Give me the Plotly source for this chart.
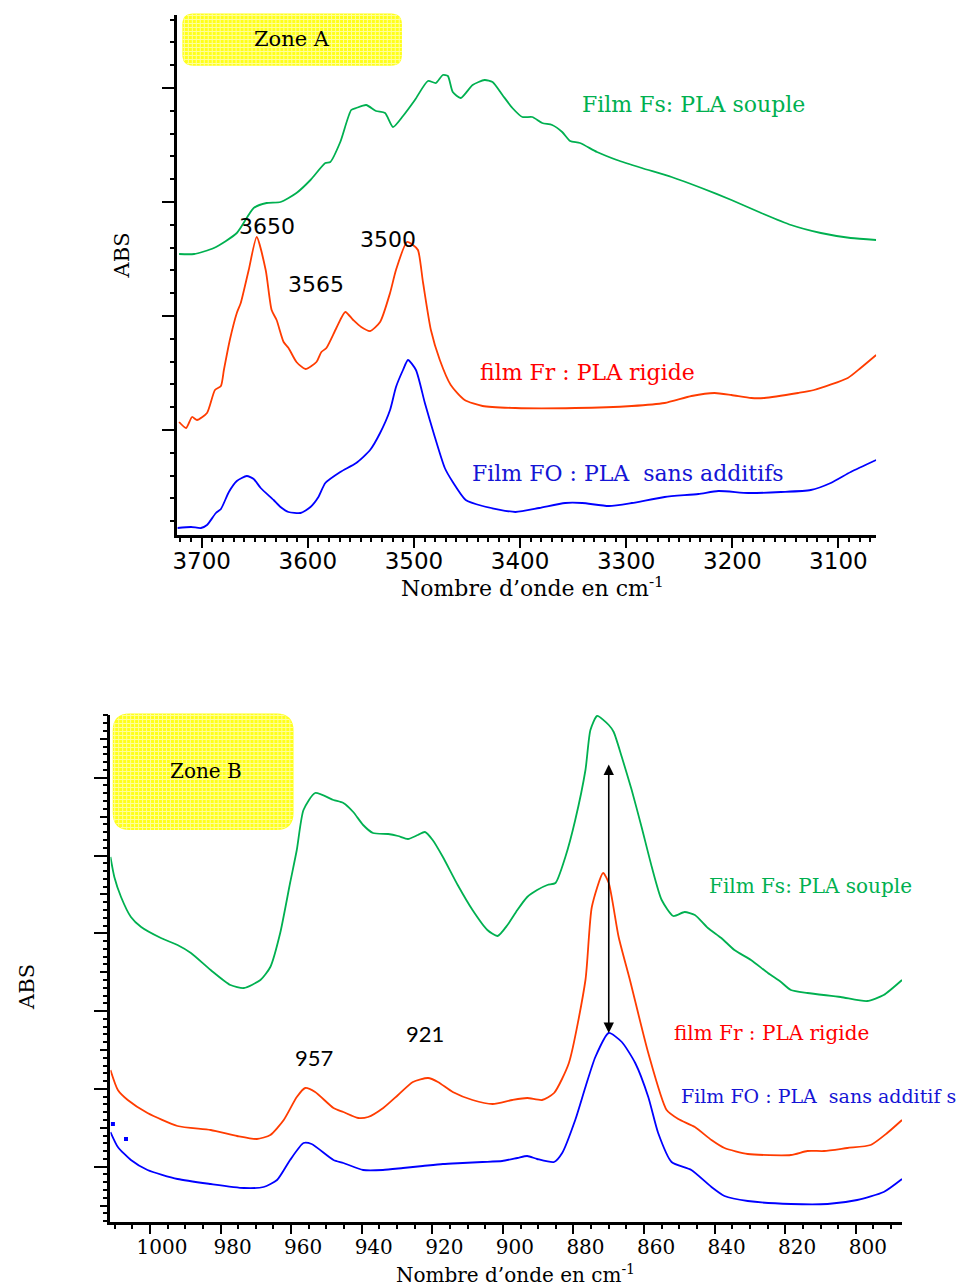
import math
import plotly.graph_objects as go

# ---------------- Zone A data (wavenumber cm-1, absorbance a.u.) ----------------
a_fs_x = [3721.3, 3707.2, 3688.5, 3666.9, 3651.0, 3638.8, 3625.7, 3610.7, 3597.5, 3583.5,
          3578.8, 3569.4, 3559.1, 3554.4, 3545.0, 3535.7, 3527.2, 3519.7, 3510.3, 3499.1,
          3486.8, 3479.3, 3472.8, 3468.0, 3463.4, 3455.9, 3444.7, 3433.4, 3425.9, 3416.6,
          3407.2, 3397.8, 3388.5, 3379.1, 3369.7, 3360.3, 3352.8, 3343.5, 3327.5, 3308.7,
          3285.3, 3257.2, 3229.0, 3200.8, 3172.7, 3144.6, 3116.5, 3088.4, 3064.4]
a_fs_y = [2.81, 2.81, 2.87, 3.02, 3.27, 3.32, 3.33, 3.42, 3.55, 3.72,
          3.73, 3.93, 4.25, 4.27, 4.30, 4.24, 4.22, 4.08, 4.19, 4.35,
          4.54, 4.52, 4.60, 4.59, 4.43, 4.37, 4.50, 4.55, 4.53, 4.40,
          4.27, 4.18, 4.18, 4.12, 4.10, 4.03, 3.94, 3.92, 3.83, 3.75,
          3.67, 3.58, 3.47, 3.35, 3.22, 3.10, 3.02, 2.97, 2.95]

a_fr_x = [3721.3, 3714.7, 3709.1, 3704.4, 3695.0, 3687.5, 3681.9, 3679.1, 3673.5, 3666.9,
          3663.2, 3655.7, 3648.2, 3639.7, 3634.1, 3629.4, 3622.8, 3618.2, 3610.7, 3602.2,
          3591.9, 3587.2, 3582.5, 3573.1, 3564.7, 3557.2, 3549.7, 3541.3, 3531.9, 3522.5,
          3516.9, 3506.6, 3500.9, 3496.2, 3491.5, 3484.0, 3475.6, 3465.3, 3452.2, 3435.3,
          3404.4, 3348.1, 3294.7, 3263.7, 3238.4, 3216.8, 3200.8, 3182.1, 3169.9, 3138.0,
          3123.0, 3091.1, 3079.0, 3064.4]
a_fr_y = [1.13, 1.07, 1.18, 1.15, 1.22, 1.45, 1.49, 1.65, 1.95, 2.22,
          2.32, 2.65, 2.98, 2.65, 2.25, 2.15, 1.93, 1.87, 1.73, 1.66,
          1.73, 1.83, 1.87, 2.07, 2.23, 2.15, 2.08, 2.04, 2.13, 2.42,
          2.65, 2.93, 2.90, 2.85, 2.53, 2.05, 1.75, 1.50, 1.35, 1.29,
          1.27, 1.27, 1.29, 1.32, 1.39, 1.42, 1.40, 1.37, 1.37, 1.42,
          1.45, 1.57, 1.67, 1.80]

a_f0_x = [3722.9, 3710.0, 3700.7, 3695.0, 3686.6, 3681.9, 3674.4, 3666.9, 3657.5, 3651.0,
          3644.4, 3632.2, 3625.7, 3618.2, 3606.9, 3597.5, 3590.0, 3583.5, 3569.4, 3554.4,
          3541.3, 3531.9, 3522.5, 3516.9, 3510.3, 3505.6, 3498.1, 3489.7, 3480.3, 3470.9,
          3463.4, 3451.2, 3435.3, 3404.4, 3381.9, 3357.5, 3341.5, 3316.2, 3294.7, 3263.7,
          3231.9, 3213.1, 3185.0, 3154.1, 3126.0, 3107.2, 3088.4, 3064.4]
a_f0_y = [0.07, 0.08, 0.07, 0.10, 0.22, 0.26, 0.43, 0.54, 0.59, 0.56,
          0.47, 0.35, 0.28, 0.23, 0.22, 0.28, 0.38, 0.52, 0.63, 0.72,
          0.85, 1.02, 1.25, 1.48, 1.65, 1.75, 1.65, 1.32, 0.98, 0.67,
          0.53, 0.35, 0.29, 0.23, 0.27, 0.32, 0.32, 0.29, 0.32, 0.38,
          0.41, 0.44, 0.42, 0.43, 0.45, 0.52, 0.63, 0.75]

# ---------------- Zone B data ----------------
b_fs_x = [1011.2, 1010.1, 1008.2, 1005.4, 1002.5, 996.9, 992.2, 988.4, 982.8, 977.2,
          973.4, 968.7, 965.9, 963.1, 960.3, 958.4, 956.5, 953.2, 948.0, 945.2,
          942.4, 939.6, 936.8, 932.5, 929.7, 926.9, 924.1, 922.1, 919.9, 917.0,
          912.8, 908.6, 904.4, 901.5, 898.7, 895.9, 893.1, 890.3, 887.4, 885.1,
          882.3, 879.5, 876.6, 875.2, 873.3, 870.0, 868.6, 866.3, 863.5, 860.7,
          857.8, 855.0, 851.7, 848.5, 845.6, 841.9, 838.1, 834.4, 829.7, 824.9,
          821.2, 818.4, 813.7, 804.3, 796.8, 792.1, 786.9]
b_fs_y = [3.65, 3.45, 3.25, 3.05, 2.95, 2.84, 2.77, 2.69, 2.52, 2.37,
          2.34, 2.42, 2.55, 2.89, 3.39, 3.72, 4.12, 4.29, 4.22, 4.19,
          4.10, 3.97, 3.89, 3.88, 3.86, 3.83, 3.87, 3.90, 3.82, 3.65,
          3.37, 3.12, 2.92, 2.86, 2.97, 3.12, 3.25, 3.32, 3.37, 3.39,
          3.65, 4.02, 4.52, 4.92, 5.06, 4.97, 4.90, 4.65, 4.32, 3.95,
          3.55, 3.22, 3.06, 3.10, 3.07, 2.94, 2.84, 2.72, 2.62, 2.49,
          2.40, 2.32, 2.29, 2.25, 2.21, 2.27, 2.42]

b_fr_x = [1011.2, 1009.1, 1006.3, 1000.7, 992.2, 982.8, 975.3, 969.7, 965.9, 962.1,
          958.4, 956.0, 953.2, 948.0, 945.2, 941.0, 938.2, 933.9, 929.7, 925.5,
          921.2, 918.4, 914.2, 908.6, 902.9, 897.3, 893.1, 888.9, 885.5, 881.3,
          876.6, 874.8, 871.6, 870.0, 867.2, 864.0, 858.8, 853.6, 850.3, 845.6,
          840.9, 837.2, 830.6, 818.4, 813.7, 809.0, 802.4, 795.8, 791.1, 786.9]
b_fr_y = [1.52, 1.32, 1.22, 1.09, 0.96, 0.92, 0.86, 0.83, 0.87, 1.02,
          1.25, 1.34, 1.30, 1.14, 1.10, 1.04, 1.05, 1.14, 1.27, 1.40,
          1.44, 1.40, 1.30, 1.22, 1.18, 1.22, 1.24, 1.22, 1.29, 1.59,
          2.42, 3.15, 3.49, 3.39, 2.85, 2.42, 1.69, 1.12, 1.03, 0.95,
          0.82, 0.74, 0.68, 0.67, 0.71, 0.71, 0.74, 0.77, 0.89, 1.02]

b_f0_x = [1011.2, 1009.1, 1005.4, 1000.7, 992.2, 982.8, 973.4, 967.8, 964.0, 960.3,
          956.5, 954.2, 948.0, 945.2, 939.6, 934.0, 928.3, 922.7, 917.0, 911.4,
          905.8, 900.2, 895.9, 893.1, 890.3, 885.5, 883.2, 879.5, 876.6, 873.8,
          870.0, 866.3, 862.5, 858.8, 856.0, 852.2, 846.6, 840.9, 837.2, 830.6,
          818.4, 808.0, 799.6, 792.1, 786.9]
b_f0_y = [0.90, 0.75, 0.62, 0.52, 0.43, 0.38, 0.34, 0.35, 0.42, 0.62,
          0.79, 0.78, 0.62, 0.59, 0.52, 0.52, 0.54, 0.56, 0.58, 0.59,
          0.60, 0.61, 0.64, 0.66, 0.63, 0.60, 0.69, 1.02, 1.35, 1.65,
          1.89, 1.80, 1.59, 1.25, 0.89, 0.60, 0.52, 0.35, 0.26, 0.21,
          0.18, 0.18, 0.22, 0.30, 0.43]

# stray blue dots at the left of zone B
b_dots_x = [1012.4, 1010.5, 1006.8]
b_dots_y = [1.09, 0.98, 0.83]

# arrow between F0 and Fs at 870 cm-1
arrow_x = 870.0
arrow_y = [1.89, 4.59]

# peak labels
a_peaks = ["3650", "3565", "3500"]
a_peak_x = [3638.6, 3591.9, 3524.4]
a_peak_y = [3.09, 2.51, 2.96]
b_peaks = ["870", "957", "921"]
b_peak_x = [871.6, 953.4, 922.1]
b_peak_y = [5.21, 1.65, 1.89]

W, H = 964, 1286
def PX(x):
    return x / W
def PY(y):
    return 1 - y / H

GREEN = "#00B050"
RED_LINE = "#FF3C00"
RED_TXT = "#FF0000"
BLUE_LINE = "#0000FF"
BLUE_TXT = "#1515D5"

fig = go.Figure()
lw = 1.8
def line(color):
    return dict(color=color, width=lw, shape="spline", smoothing=0.6)

fig.add_trace(go.Scatter(x=a_fs_x, y=a_fs_y, mode="lines", line=line(GREEN), xaxis="x", yaxis="y"))
fig.add_trace(go.Scatter(x=a_fr_x, y=a_fr_y, mode="lines", line=line(RED_LINE), xaxis="x", yaxis="y"))
fig.add_trace(go.Scatter(x=a_f0_x, y=a_f0_y, mode="lines", line=line(BLUE_LINE), xaxis="x", yaxis="y"))
fig.add_trace(go.Scatter(x=b_fs_x, y=b_fs_y, mode="lines", line=line(GREEN), xaxis="x2", yaxis="y2"))
fig.add_trace(go.Scatter(x=b_fr_x, y=b_fr_y, mode="lines", line=line(RED_LINE), xaxis="x2", yaxis="y2"))
fig.add_trace(go.Scatter(x=b_f0_x, y=b_f0_y, mode="lines", line=line(BLUE_LINE), xaxis="x2", yaxis="y2"))
fig.add_trace(go.Scatter(x=b_dots_x, y=b_dots_y, mode="markers", cliponaxis=False,
                         marker=dict(symbol="square", size=4, color=BLUE_LINE), xaxis="x2", yaxis="y2"))
fig.add_trace(go.Scatter(x=[None], y=[None], mode="lines", xaxis="x2", yaxis="y3", hoverinfo="skip"))

axis_common = dict(showline=True, linecolor="black", linewidth=2.5, showgrid=False, zeroline=False,
                   ticks="outside", tickcolor="black", tickwidth=2)

fig.update_layout(
    width=W, height=H, margin=dict(l=0, r=0, t=0, b=0),
    paper_bgcolor="white", plot_bgcolor="white", showlegend=False,
    xaxis=dict(domain=[PX(173.3), PX(875.7)], range=[3722.9, 3064.4], anchor="y",
               tickmode="linear", tick0=3000, dtick=100, ticklen=10, ticklabelstandoff=-6,
               tickfont=dict(family="DejaVu Sans", size=23, color="black"),
               minor=dict(ticks="outside", dtick=10, ticklen=4, tickwidth=1.5, tickcolor="black"),
               **axis_common),
    yaxis=dict(domain=[PY(535), PY(15)], range=[0, 5.20], anchor="x",
               tickmode="linear", tick0=1.05, dtick=1.14, ticklen=13, showticklabels=False,
               minor=dict(ticks="outside", tick0=1.05, dtick=0.228, ticklen=5, tickwidth=1.5, tickcolor="black"),
               **axis_common),
    xaxis2=dict(domain=[PX(106), PX(901.7)], range=[1011.2, 786.9], anchor="y2",
                tickmode="linear", tick0=1000, dtick=20, ticklen=9, ticklabelshift=-12,
                ticklabelstandoff=-4,
                tickfont=dict(family="DejaVu Serif", size=20, color="black"),
                minor=dict(ticks="outside", dtick=5, ticklen=4, tickwidth=1.5, tickcolor="black"),
                **axis_common),
    yaxis2=dict(domain=[PY(1222), PY(715)], range=[0, 5.07], anchor="x2",
                tickmode="linear", tick0=0.553, dtick=0.778, ticklen=14, showticklabels=False,
                minor=dict(ticks="outside", tick0=0.553, dtick=0.0778, ticklen=4.5, tickwidth=1.5, tickcolor="black"),
                **axis_common),
    yaxis3=dict(overlaying="y2", anchor="x2", side="left", range=[0, 5.07], showline=False,
                showgrid=False, zeroline=False, ticks="outside", tickmode="linear", tick0=0.164, dtick=0.778,
                ticklen=9, tickwidth=2, tickcolor="black", showticklabels=False),
)

# ---------------- yellow "Zone" boxes ----------------
def rrect_path(x0, y0, x1, y1, r):
    return (f"M {PX(x0+r)},{PY(y0)} L {PX(x1-r)},{PY(y0)} Q {PX(x1)},{PY(y0)} {PX(x1)},{PY(y0+r)} "
            f"L {PX(x1)},{PY(y1-r)} Q {PX(x1)},{PY(y1)} {PX(x1-r)},{PY(y1)} "
            f"L {PX(x0+r)},{PY(y1)} Q {PX(x0)},{PY(y1)} {PX(x0)},{PY(y1-r)} "
            f"L {PX(x0)},{PY(y0+r)} Q {PX(x0)},{PY(y0)} {PX(x0+r)},{PY(y0)} Z")

def inset(d, r):
    if d >= r:
        return 0.0
    t = r - d
    return r - math.sqrt(max(r * r - t * t, 0))

def zone_box(x0, y0, x1, y1, r):
    fig.add_shape(type="path", path=rrect_path(x0, y0, x1, y1, r), xref="paper", yref="paper",
                  fillcolor="#FFFF1A", line=dict(width=0), layer="below")
    step = 4
    gx = x0 + 2
    while gx < x1 - 1:
        d = min(gx - x0, x1 - gx)
        ins = inset(d, r)
        fig.add_shape(type="line", xref="paper", yref="paper",
                      x0=PX(gx), x1=PX(gx), y0=PY(y0 + ins), y1=PY(y1 - ins),
                      line=dict(color="#FFFF9A", width=1), layer="below")
        gx += step
    gy = y0 + 2
    while gy < y1 - 1:
        d = min(gy - y0, y1 - gy)
        ins = inset(d, r)
        fig.add_shape(type="line", xref="paper", yref="paper",
                      x0=PX(x0 + ins), x1=PX(x1 - ins), y0=PY(gy), y1=PY(gy),
                      line=dict(color="#FFFF9A", width=1), layer="below")
        gy += step

zone_box(178.3, 13.5, 399, 65.7, 11)
zone_box(108.3, 713.5, 290, 830, 17)

serif = "DejaVu Serif"
ann = []
def pann(text, x, y, size, angle=0):
    ann.append(dict(text=text, x=PX(x), y=PY(y), xref="paper", yref="paper", showarrow=False,
                    xanchor="center", yanchor="middle", textangle=angle,
                    font=dict(family=serif, size=size, color="black")))

pann("Zone A", 288, 39, 21)
pann("Zone B", 202, 771, 20)
pann("Nombre d’onde en cm<sup>-1</sup>", 530, 587, 22)
pann("Nombre d’onde en cm<sup>-1</sup>", 513, 1274, 20)
pann("ABS", 118, 255, 21, -90)
pann("ABS", 22, 987, 21, -90)

# peak labels
for t, x, y in zip(a_peaks, a_peak_x, a_peak_y):
    ann.append(dict(text=t, x=x, y=y, xref="x", yref="y", showarrow=False, xanchor="center", yanchor="middle",
                    font=dict(family="DejaVu Sans", size=22, color="black")))
for t, x, y in zip(b_peaks, b_peak_x, b_peak_y):
    ann.append(dict(text=t, x=x, y=y, xref="x2", yref="y2", showarrow=False, xanchor="center", yanchor="middle",
                    font=dict(family="Lato", size=22, color="black")))

# series labels
def sann(text, x, y, ax, size, color):
    ann.append(dict(text=text, x=x, y=y, xref=ax, yref="y" if ax == "x" else "y2", xanchor="left",
                    yanchor="middle", showarrow=False, font=dict(family=serif, size=size, color=color)))

sann("Film Fs: PLA souple", 3343.5, 4.31, "x", 22, GREEN)
sann("film Fr : PLA rigide", 3440.0, 1.63, "x", 22, RED_TXT)
sann("Film FO : PLA  sans additifs", 3447.5, 0.62, "x", 22, BLUE_TXT)
sann("Film Fs: PLA souple", 842.3, 3.36, "x2", 20, GREEN)
sann("film Fr : PLA rigide", 852.2, 1.89, "x2", 20, RED_TXT)
sann("Film FO : PLA  sans additif s", 850.2, 1.26, "x2", 19, BLUE_TXT)

# double-headed arrow
ann.append(dict(text="", x=arrow_x, y=arrow_y[0], ax=arrow_x, ay=arrow_y[1], xref="x2", yref="y2",
                axref="x2", ayref="y2", showarrow=True, arrowhead=2, arrowside="end+start",
                arrowsize=1.3, arrowwidth=1.6, arrowcolor="black"))

fig.update_layout(annotations=ann)
fig.write_html("out.html")
